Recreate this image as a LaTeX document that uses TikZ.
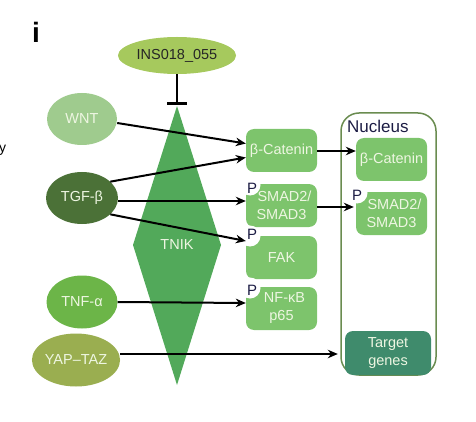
\documentclass[tikz,border=0pt]{standalone}
\usepackage{fontspec}
\setmainfont{Liberation Sans}
\usetikzlibrary{shapes.geometric,arrows.meta,calc}
\definecolor{insc}{HTML}{A6C95D}
\definecolor{wntc}{HTML}{9FCB8E}
\definecolor{tgfc}{HTML}{4B7137}
\definecolor{tnfc}{HTML}{6CB548}
\definecolor{yapc}{HTML}{9AAE50}
\definecolor{tnikc}{HTML}{52A95A}
\definecolor{boxc}{HTML}{7DC46C}
\definecolor{targetc}{HTML}{3F8B6C}
\definecolor{nucc}{HTML}{6A8C50}
\definecolor{txtlight}{HTML}{EEF6E2}
\definecolor{pnavy}{HTML}{1C1C44}
\begin{document}
\begin{tikzpicture}[x=1pt,y=-1pt,
  oval/.style={ellipse,draw=none,inner sep=0,text=txtlight,font=\fontsize{14.5}{17}\selectfont},
  box/.style={rectangle,rounded corners=8pt,fill=boxc,inner sep=0,minimum width=71pt,minimum height=43pt,text=txtlight,align=center,font=\fontsize{14.5}{18}\selectfont},
  arr/.style={line width=2pt,-{Stealth[length=10pt,width=8.5pt]}},
  pmark/.style={font=\fontsize{15}{15}\selectfont,text=pnavy,inner sep=0},
  pcirc/.style={circle,fill=white,minimum size=21pt,inner sep=0}
]
\useasboundingbox (0,0) rectangle (476,422);

% labels
\node[font=\fontsize{28}{28}\selectfont\bfseries, anchor=base, inner sep=0] (lbl) at (36,43) {i};
\node[font=\fontsize{14}{14}\selectfont, anchor=base west, inner sep=0] (ytxt) at (-1,153) {y};

% nucleus
\node[draw=nucc, line width=1.5pt, rounded corners=18pt, minimum width=95pt, minimum height=262pt, inner sep=0] (nuc) at (388.5,244) {};
\node[anchor=base west, font=\fontsize{17}{17}\selectfont, text=pnavy, inner sep=0] (nuclbl) at (347,133) {Nucleus};

% boxes
\node[box] (bcat) at (281.5,150.5) {β-Catenin};
\node[box] (smad) at (281.5,205.5) {\hspace{6pt}SMAD2/\\SMAD3};
\node[box] (fak) at (281.5,257.5) {FAK};
\node[box] (nfkb) at (281.5,308.5) {\hspace{6pt}NF-κB\\p65};
\node[box] (nbcat) at (391.5,159.5) {β-Catenin};
\node[box] (nsmad) at (391.5,213.5) {\hspace{6pt}SMAD2/\\SMAD3};
\node[box, fill=targetc, minimum width=86pt, minimum height=44pt] (target) at (388,353) {Target\\genes};

% phosphorylation marks
\node[pcirc] (pc1) at (250,185) {};
\node[pmark] (p1) at (252,188) {P};
\node[pcirc] (pc2) at (250,236) {};
\node[pmark] (p2) at (252,234) {P};
\node[pcirc] (pc3) at (250,288) {};
\node[pmark] (p3) at (252,290) {P};
\node[pcirc] (pc4) at (357,193) {};
\node[pmark] (p4) at (357,195) {P};

% TNIK
\fill[tnikc] (177,106) -- (221,245) -- (177,385) -- (133,245) -- cycle;
\node[text=txtlight, font=\fontsize{14.5}{17}\selectfont, inner sep=0] (tnik) at (177,245) {TNIK};

% ovals
\node[oval, fill=insc, minimum width=118pt, minimum height=37pt, text=black!85] (ins) at (177,55.5) {INS018\_055};
\node[oval, fill=wntc, minimum width=70pt, minimum height=52pt] (wnt) at (82,119) {WNT};
\node[oval, fill=tgfc, minimum width=72pt, minimum height=52pt] (tgf) at (82,198) {TGF-β};
\node[oval, fill=tnfc, minimum width=71pt, minimum height=53pt] (tnf) at (82,302) {TNF-α};
\node[oval, fill=yapc, minimum width=88pt, minimum height=53pt] (yap) at (76,360) {YAP–TAZ};

% inhibition
\coordinate (bar) at (177,104);
\draw[line width=2.5pt] (ins.south) -- (bar);
\draw[line width=3pt] ($(bar)+(-10,0)$) -- ($(bar)+(10,0)$);

% arrows
\draw[arr] ($(wnt.east)+(0,4)$) -- ($(bcat.west)+(0,-7)$);
\draw[arr] (tgf.30) -- ($(bcat.west)+(0,7)$);
\draw[arr] ($(tgf.east)+(0,3)$) -- ($(smad.west)+(0,-4.5)$);
\draw[arr] (tgf.-30) -- ($(fak.west)+(0,-16.5)$);
\draw[arr] (tnf.east) -- ($(nfkb.west)+(0,-5.5)$);
\draw[arr] ($(yap.east)+(0,-6)$) -- ($(target.west)+(-7,1)$);
\draw[arr] ($(bcat.east)+(0,0.5)$) -- ($(nbcat.west)+(0,-8.5)$);
\draw[arr] ($(smad.east)+(0,1.5)$) -- ($(nsmad.west)+(-2,-6.5)$);
\end{tikzpicture}
\end{document}
